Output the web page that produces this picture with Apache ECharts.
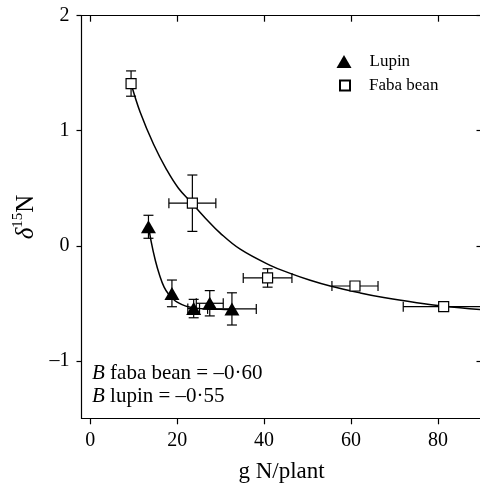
<!DOCTYPE html>
<html><head><meta charset="utf-8">
<script src="https://cdn.jsdelivr.net/npm/echarts@6/dist/echarts.min.js"></script>
<style>html,body{margin:0;padding:0;background:#fff}#c{width:480px;height:484px}</style>
</head><body><div id="c"></div>
<script>
// ---- data ----
const xTicks = [0, 20, 40, 60, 80];
const yTicks = [-1, 0, 1, 2];

const fabaX    = [9.4, 23.5, 40.8, 60.9, 81.3];
const fabaY    = [1.41, 0.37, -0.28, -0.35, -0.53];
const fabaXErr = [0, 5.4, 5.6, 5.3, 9.3];
const fabaYErr = [0.11, 0.245, 0.08, 0, 0];

const lupinX    = [13.4, 18.8, 23.8, 27.5, 32.6];
const lupinY    = [0.165, -0.414, -0.546, -0.50, -0.549];
const lupinXErr = [0, 0, 1.35, 3.1, 5.6];
const lupinYErr = [0.10, 0.116, 0.08, 0.11, 0.14];

const fabaCurveX = [9.4, 11.5, 14.6, 17.6, 20.3, 23.4, 26.5, 29.9, 34.5, 41.4, 46, 50.6, 55.2, 62.1, 67.5, 75.1, 81.3, 90];
const fabaCurveY = [1.41, 1.16, 0.88, 0.66, 0.50, 0.37, 0.24, 0.11, -0.03, -0.17, -0.24, -0.30, -0.35, -0.41, -0.45, -0.495, -0.525, -0.555];

const lupinCurveX = [13.4, 14, 15, 16, 17, 18, 19, 20, 22, 24, 27, 30, 33];
const lupinCurveY = [0.18, 0.04, -0.13, -0.26, -0.36, -0.42, -0.46, -0.49, -0.525, -0.54, -0.55, -0.553, -0.555];

const annotations = ['{i|B} faba bean = –0·60', '{i|B} lupin = –0·55'];

// ---- chart ----
const FONT = '"Liberation Serif", "DejaVu Serif", serif';
const zip = (a, b) => a.map((v, i) => [v, b[i]]);
const zip4 = (a, b, c, d) => a.map((v, i) => [v, b[i], c[i], d[i]]);

function errRender(params, api) {
  const x = api.value(0), y = api.value(1), ex = api.value(2), ey = api.value(3);
  const st = { stroke: '#000', lineWidth: 1.2 };
  const cap = 5;
  const ch = [];
  if (ey > 0) {
    const t = api.coord([x, y + ey]), b = api.coord([x, y - ey]);
    ch.push({ type: 'line', shape: { x1: t[0], y1: t[1], x2: b[0], y2: b[1] }, style: st });
    ch.push({ type: 'line', shape: { x1: t[0] - cap, y1: t[1], x2: t[0] + cap, y2: t[1] }, style: st });
    ch.push({ type: 'line', shape: { x1: b[0] - cap, y1: b[1], x2: b[0] + cap, y2: b[1] }, style: st });
  }
  if (ex > 0) {
    const l = api.coord([x - ex, y]), r = api.coord([x + ex, y]);
    ch.push({ type: 'line', shape: { x1: l[0], y1: l[1], x2: r[0], y2: r[1] }, style: st });
    ch.push({ type: 'line', shape: { x1: l[0], y1: l[1] - cap, x2: l[0], y2: l[1] + cap }, style: st });
    ch.push({ type: 'line', shape: { x1: r[0], y1: r[1] - cap, x2: r[0], y2: r[1] + cap }, style: st });
  }
  return { type: 'group', children: ch };
}

const axLine = { show: true, onZero: false, lineStyle: { color: '#000', width: 1.2 } };
const dash = v => String(v).replace('-', '–');

const chart = echarts.init(document.getElementById('c'), null, { renderer: 'canvas' });
chart.setOption({
  animation: false,
  backgroundColor: '#fff',
  textStyle: { fontFamily: FONT, color: '#000' },
  grid: { left: 81.5, right: -1.5, top: 15.7, bottom: 65.7, outerBoundsMode: 'none', containLabel: false },
  xAxis: [{
    type: 'value', min: -2, max: 90, position: 'bottom',
    axisLine: axLine, splitLine: { show: false },
    axisTick: { show: true, inside: false, length: 6, customValues: xTicks, lineStyle: { color: '#000', width: 1.2 } },
    axisLabel: { customValues: xTicks, margin: 12, fontSize: 20, fontFamily: FONT, color: '#000', formatter: dash },
    name: 'g N/plant', nameLocation: 'middle', nameGap: 42,
    nameTextStyle: { fontSize: 23, fontFamily: FONT, color: '#000' }
  }, {
    type: 'value', min: -2, max: 90, position: 'top',
    axisLine: axLine, splitLine: { show: false },
    axisTick: { show: true, inside: true, length: 6, customValues: xTicks, lineStyle: { color: '#000', width: 1.2 } },
    axisLabel: { show: false }
  }],
  yAxis: [{
    type: 'value', min: -1.5, max: 2, position: 'left',
    axisLine: axLine, splitLine: { show: false },
    axisTick: { show: true, inside: false, length: 5, customValues: yTicks, lineStyle: { color: '#000', width: 1.2 } },
    axisLabel: { customValues: yTicks, margin: 12, fontSize: 20, fontFamily: FONT, color: '#000', formatter: dash },
    name: '{d|δ}{s|15}{n|N}', nameLocation: 'middle', nameGap: 30, nameRotate: 90,
    nameTextStyle: {
      fontFamily: FONT, color: '#000',
      rich: {
        d: { fontSize: 25, fontStyle: 'italic', fontFamily: FONT, verticalAlign: 'bottom', lineHeight: 28 },
        s: { fontSize: 15, fontFamily: FONT, verticalAlign: 'top', lineHeight: 28 },
        n: { fontSize: 25, fontFamily: FONT, verticalAlign: 'bottom', lineHeight: 28 }
      }
    }
  }, {
    type: 'value', min: -1.5, max: 2, position: 'right',
    axisLine: axLine, splitLine: { show: false },
    axisTick: { show: true, inside: true, length: 5, customValues: yTicks, lineStyle: { color: '#000', width: 1.2 } },
    axisLabel: { show: false }
  }],
  legend: [{
    data: ['Lupin'], orient: 'vertical', left: 331.5, top: 47.5,
    itemWidth: 15, itemHeight: 13,
    textStyle: { fontSize: 17, fontFamily: FONT, color: '#000', lineHeight: 18, padding: [0, 0, 0, 13] }
  }, {
    data: ['Faba bean'], orient: 'vertical', left: 334, top: 71.5,
    itemWidth: 10, itemHeight: 10,
    textStyle: { fontSize: 17, fontFamily: FONT, color: '#000', lineHeight: 18, padding: [0, 0, 0, 14] }
  }],
  graphic: [{
    type: 'text', left: 92, top: 362, z: 10,
    style: {
      text: annotations.join('\n'), font: '21px ' + FONT, fill: '#000', lineHeight: 23,
      rich: { i: { fontStyle: 'italic', fontSize: 21, fontFamily: FONT, lineHeight: 23 } }
    }
  }],
  series: [
    { type: 'custom', name: 'lupinErr', renderItem: errRender, data: zip4(lupinX, lupinY, lupinXErr, lupinYErr), z: 1, silent: true },
    { type: 'custom', name: 'fabaErr', renderItem: errRender, data: zip4(fabaX, fabaY, fabaXErr, fabaYErr), z: 1, silent: true },
    { type: 'line', name: 'fabaCurve', data: zip(fabaCurveX, fabaCurveY), smooth: 0.4, showSymbol: false, symbol: 'none',
      lineStyle: { color: '#000', width: 1.5 }, z: 2, silent: true },
    { type: 'line', name: 'lupinCurve', data: zip(lupinCurveX, lupinCurveY), smooth: 0.4, showSymbol: false, symbol: 'none',
      lineStyle: { color: '#000', width: 1.5 }, z: 2, silent: true },
    { type: 'scatter', name: 'Lupin', data: zip(lupinX, lupinY), symbol: 'triangle', symbolSize: [15, 13],
      itemStyle: { color: '#000', opacity: 1 }, z: 3 },
    { type: 'scatter', name: 'Faba bean', data: zip(fabaX, fabaY), symbol: 'rect', symbolSize: 10,
      itemStyle: { color: '#fff', borderColor: '#000', borderWidth: 1.2, opacity: 1 }, z: 4 }
  ]
});
</script></body></html>
